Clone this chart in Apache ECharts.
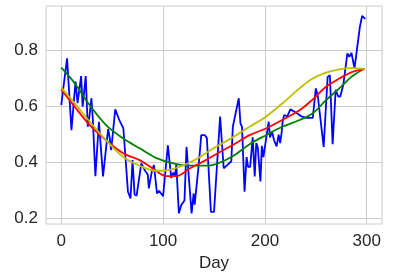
<!DOCTYPE html>
<html><head><meta charset="utf-8">
<script src="https://cdn.jsdelivr.net/npm/echarts@6/dist/echarts.min.js"></script>
<style>html,body{margin:0;padding:0;background:#fff}#c{width:420px;height:280px}</style>
</head><body><div id="c"></div>
<script>
const blueDays = [0,2,5.7,10,14,16,19.5,21,24,26,27.5,29.6,31,33.5,37,41,46,47.5,49,53,57,61,65.5,68,70,72,74,75,78.6,82,85,86,89,91,94,96,98,100,104.7,108,110,111.5,113,115.5,118,121,123,128,130,131,135,137.5,141,143,147,150,156,159.5,163.5,167,168.5,174.3,176,177.5,180,182,183.5,185.5,188,190,191.5,193,195.6,197,198.5,203.7,205,207,209,211.5,213.5,215,216.5,217.5,219,222,225,230,236,241,247,250,252,257.7,261.6,263.8,266.5,269.5,272,274,277,281,283,285,286,288,293.3,295.5,298.5];
const blueVals = [0.605,0.666,0.772,0.516,0.689,0.612,0.709,0.60,0.709,0.528,0.56,0.63,0.554,0.352,0.546,0.351,0.52,0.49,0.445,0.59,0.552,0.522,0.296,0.272,0.409,0.286,0.282,0.28,0.397,0.373,0.357,0.308,0.37,0.391,0.29,0.30,0.29,0.28,0.462,0.345,0.365,0.35,0.393,0.219,0.25,0.265,0.456,0.219,0.29,0.25,0.393,0.498,0.498,0.488,0.224,0.224,0.564,0.38,0.393,0.405,0.528,0.63,0.54,0.528,0.296,0.42,0.385,0.385,0.49,0.351,0.47,0.455,0.333,0.46,0.42,0.546,0.49,0.51,0.48,0.458,0.5,0.47,0.51,0.55,0.57,0.565,0.59,0.58,0.565,0.56,0.56,0.665,0.636,0.456,0.706,0.712,0.466,0.66,0.636,0.636,0.678,0.79,0.778,0.792,0.79,0.736,0.885,0.924,0.913];

const greenDays = [0,12,28,44,61,77,93,110,126,142,152,168,185,201,217,234,247,260,273,286,298];
const greenVals = [0.739,0.689,0.605,0.534,0.486,0.451,0.417,0.397,0.389,0.389,0.395,0.422,0.466,0.498,0.528,0.552,0.576,0.623,0.665,0.709,0.736];

const redDays = [0,12,28,44,61,77,90,103,113,126,142,152,168,185,201,217,234,247,260,273,286,298];
const redVals = [0.661,0.605,0.534,0.48,0.433,0.409,0.379,0.352,0.352,0.379,0.409,0.43,0.462,0.498,0.522,0.552,0.587,0.626,0.671,0.70,0.724,0.734];

const yellowDays = [0,12,28,44,61,77,93,103,116,132,148,165,185,201,217,234,247,260,273,286,298];
const yellowVals = [0.668,0.617,0.546,0.48,0.42,0.389,0.371,0.372,0.385,0.411,0.448,0.483,0.528,0.564,0.611,0.665,0.70,0.721,0.733,0.737,0.734];

const xTicks = [0,100,200,300];
const yTicks = [0.2,0.4,0.6,0.8];
const xLabel = 'Day';

function pairs(d, v){ return d.map((x,i)=>[x, v[i]]); }

const font = 'Liberation Sans, Arial, sans-serif';
const chart = echarts.init(document.getElementById('c'), null, {renderer:'canvas'});
const smoothLine = (data, color) => ({
  type:'line', data, smooth:0.35, showSymbol:false,
  lineStyle:{color, width:1.8}, itemStyle:{color}, animation:false, z:3
});
chart.setOption({
  backgroundColor:'#fff',
  animation:false,
  grid:{left:46, right:38, top:6, bottom:56, show:true, borderColor:'#cccccc', borderWidth:1, backgroundColor:'#fff'},
  xAxis:{
    type:'value', min:-15, max:315,
    name:xLabel, nameLocation:'middle', nameGap:30,
    nameTextStyle:{fontFamily:font, fontSize:17, color:'#262626'},
    axisLine:{show:false}, axisTick:{show:false, customValues:xTicks},
    axisLabel:{fontFamily:font, fontSize:17, color:'#262626', margin:9, customValues:xTicks},
    splitLine:{show:true, lineStyle:{color:'#cccccc', width:1}}
  },
  yAxis:{
    type:'value', min:0.181, max:0.959,
    axisLine:{show:false}, axisTick:{show:false, customValues:yTicks},
    axisLabel:{fontFamily:font, fontSize:17, color:'#262626', margin:8,
      customValues:yTicks, formatter:v=>v.toFixed(1)},
    splitLine:{show:true, lineStyle:{color:'#cccccc', width:1}}
  },
  series:[
    {type:'line', data:pairs(blueDays, blueVals), showSymbol:false, lineStyle:{color:'#0000ff', width:1.8}, itemStyle:{color:'#0000ff'}, z:2},
    smoothLine(pairs(greenDays, greenVals), '#008000'),
    smoothLine(pairs(redDays, redVals), '#ff0000'),
    smoothLine(pairs(yellowDays, yellowVals), '#bfbf00')
  ]
});
</script></body></html>
